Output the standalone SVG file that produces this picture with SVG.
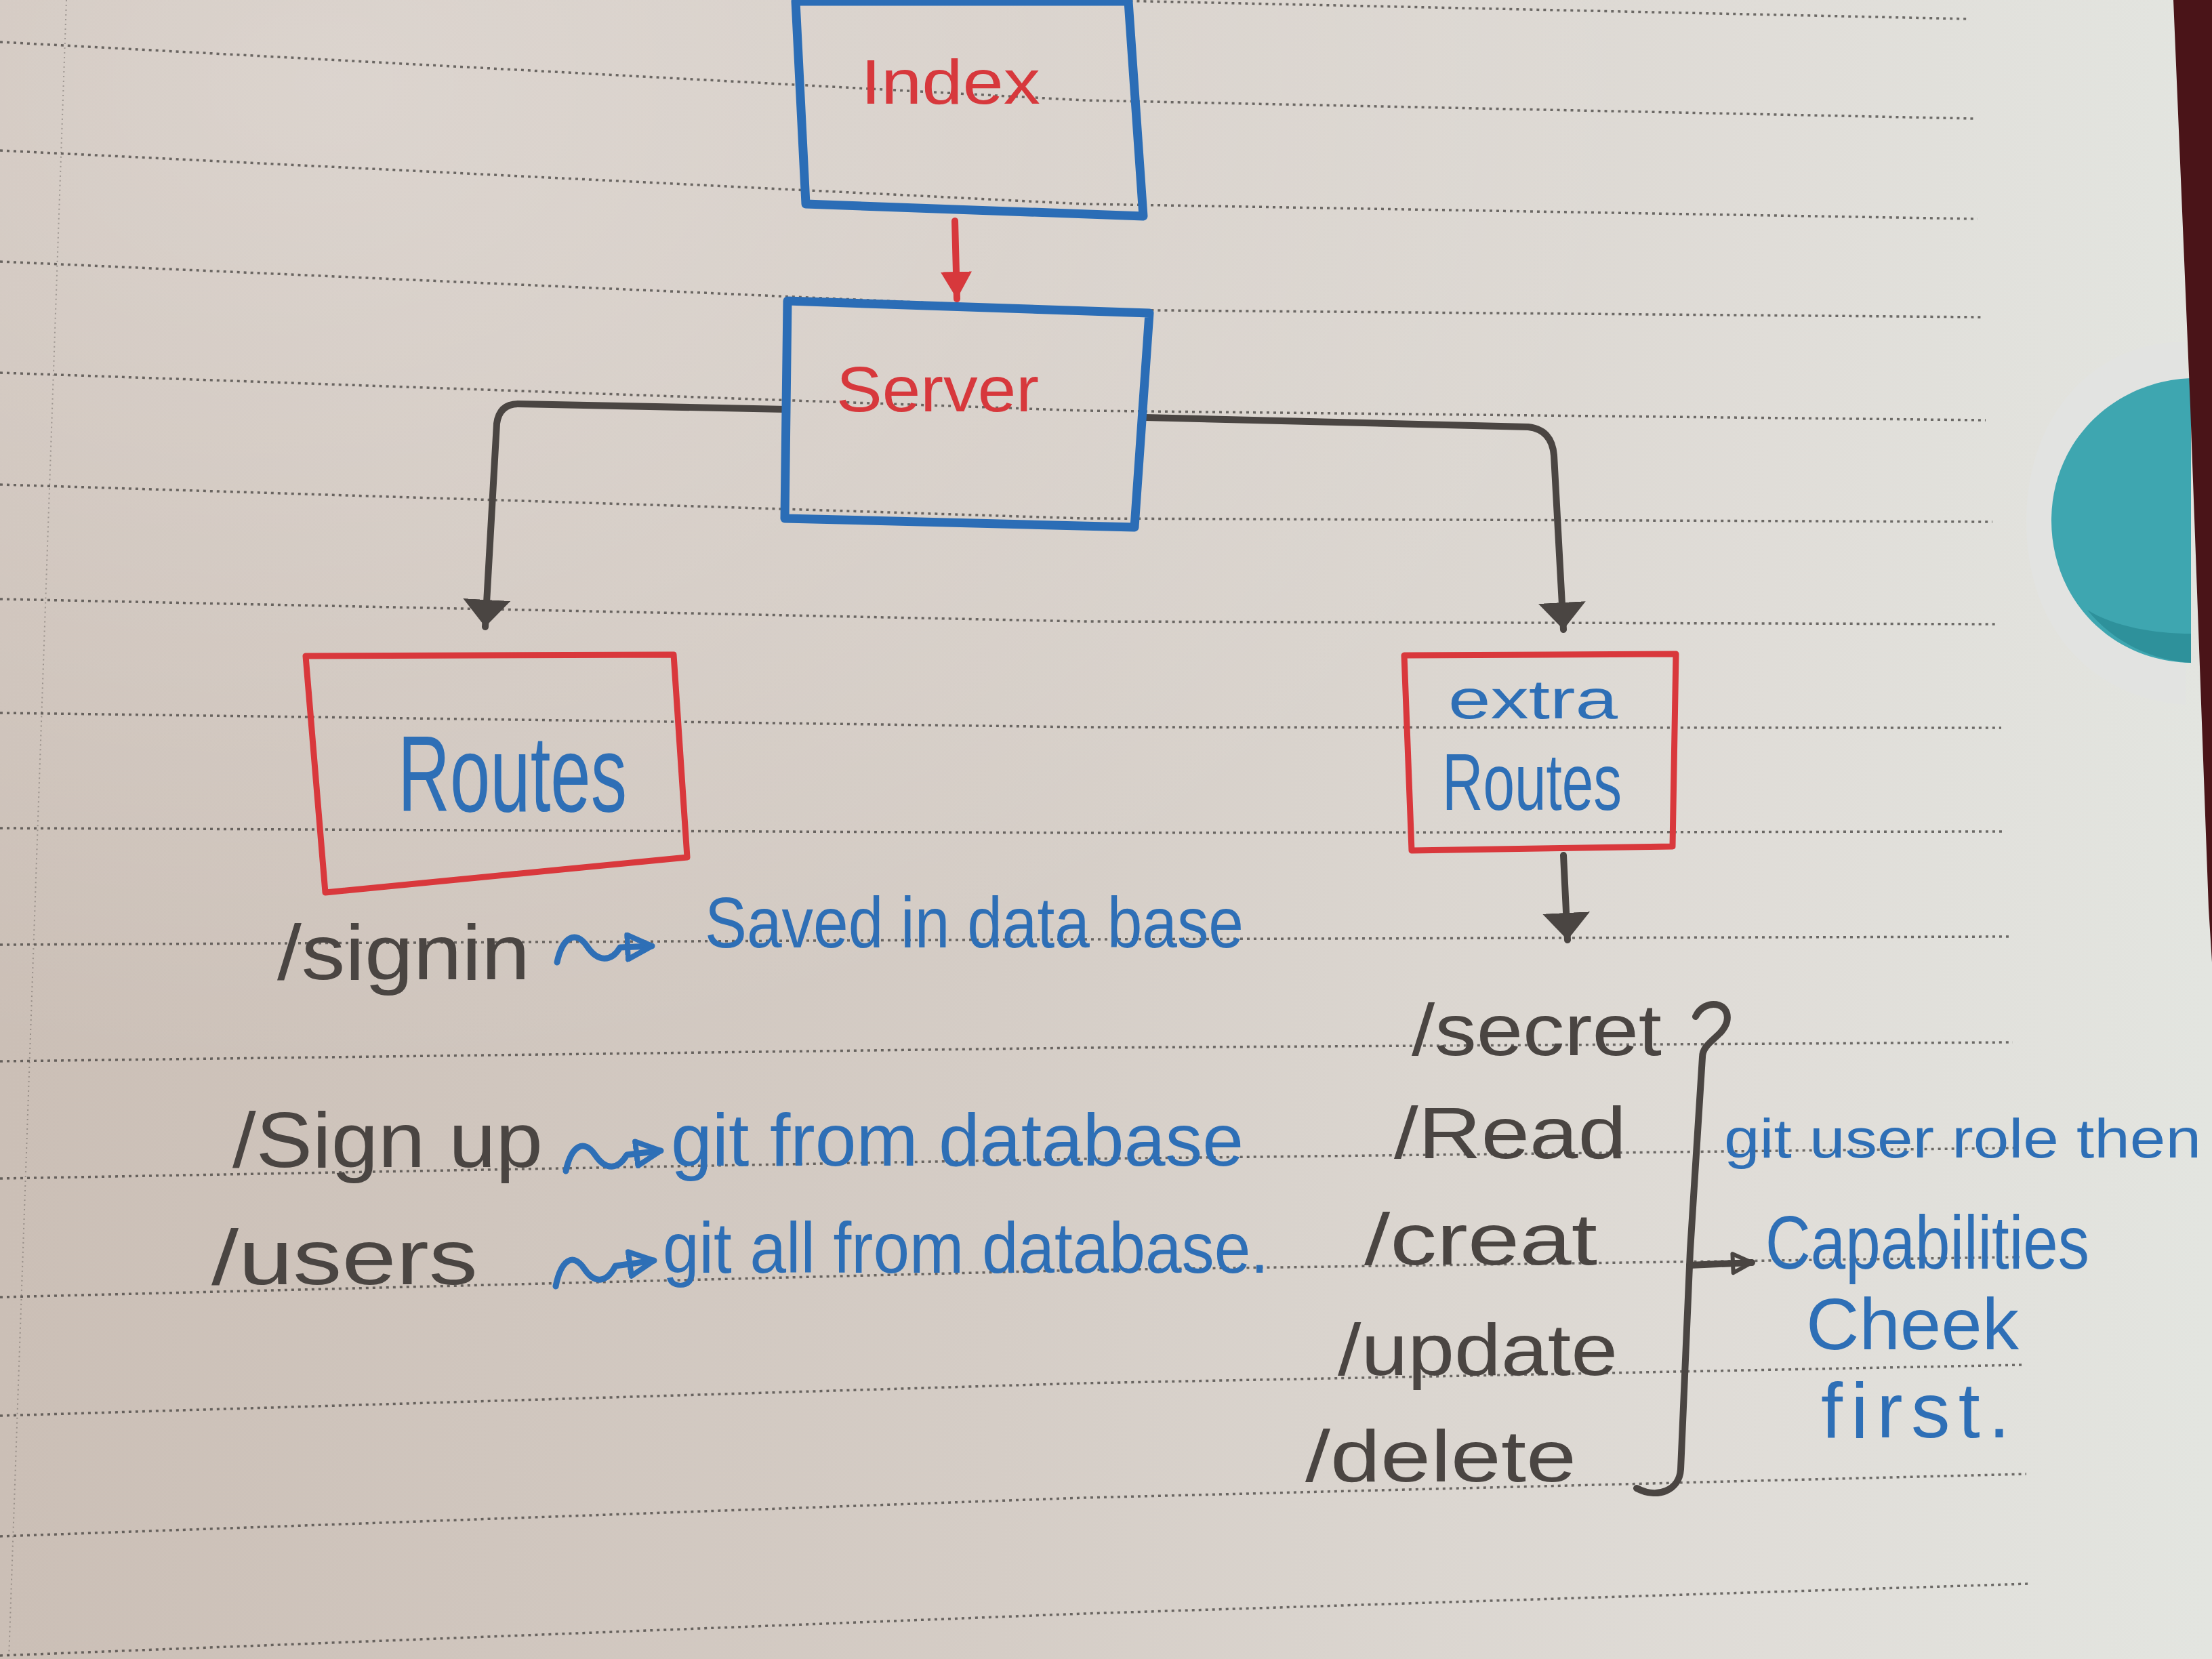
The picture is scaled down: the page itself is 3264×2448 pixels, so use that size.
<svg xmlns="http://www.w3.org/2000/svg" width="3264" height="2448" viewBox="0 0 3264 2448">
  <defs>
    <linearGradient id="paper" x1="0" y1="0" x2="1" y2="0">
      <stop offset="0" stop-color="#cbbfb6"/>
      <stop offset="0.45" stop-color="#d5cdc6"/>
      <stop offset="0.8" stop-color="#e0ddd8"/>
      <stop offset="1" stop-color="#e3e5e0"/>
    </linearGradient>
    <radialGradient id="glow" cx="0.15" cy="0.05" r="0.6">
      <stop offset="0" stop-color="#ffffff" stop-opacity="0.28"/>
      <stop offset="1" stop-color="#ffffff" stop-opacity="0"/>
    </radialGradient>
    <marker id="headPencil" viewBox="0 0 40 70" refX="40" refY="35" markerWidth="40" markerHeight="70" markerUnits="userSpaceOnUse" orient="auto">
      <path d="M0,0 L40,35 L0,70 z" fill="#4a4542"/>
    </marker>
    <marker id="headRed" viewBox="0 0 40 46" refX="40" refY="23" markerWidth="40" markerHeight="46" markerUnits="userSpaceOnUse" orient="auto">
      <path d="M0,0 L40,23 L0,46 z" fill="#d7383c"/>
    </marker>
    <marker id="headOpenBlue" viewBox="0 0 44 44" refX="40" refY="22" markerWidth="44" markerHeight="44" markerUnits="userSpaceOnUse" orient="auto">
      <path d="M4,4 L40,22 L4,40 z" fill="none" stroke="#2e6fb6" stroke-width="8" stroke-linejoin="round"/>
    </marker>
    <marker id="headOpenPencil" viewBox="0 0 36 36" refX="32" refY="18" markerWidth="36" markerHeight="36" markerUnits="userSpaceOnUse" orient="auto">
      <path d="M4,4 L32,18 L4,32 z" fill="none" stroke="#4a4542" stroke-width="6" stroke-linejoin="round"/>
    </marker>
  </defs>
  <style>
    .rule { fill: none; stroke: #3b3735; stroke-width: 3.5; stroke-dasharray: 4 6; opacity: 0.7; }
    .blueBox { fill: none; stroke: #2b6db6; stroke-width: 13; stroke-linejoin: round; }
    .redBox { fill: none; stroke: #d9383c; stroke-width: 9; stroke-linejoin: round; }
    .pencilLine { fill: none; stroke: #4a4542; stroke-width: 10; stroke-linecap: round; stroke-linejoin: round; }
    .redLine { fill: none; stroke: #d7383c; stroke-width: 10; stroke-linecap: round; }
    .inkLine { fill: none; stroke: #2e6fb6; stroke-width: 9; stroke-linecap: round; stroke-linejoin: round; }
    text { font-family: "Liberation Sans", "DejaVu Sans", sans-serif; }
    .pencil { fill: #4a4542; }
    .ink { fill: #2e6fb6; }
    .red { fill: #d7383c; }
  </style>

  <!-- paper -->
  <rect x="0" y="0" width="3264" height="2448" fill="url(#paper)"/>
  <rect x="0" y="0" width="3264" height="2448" fill="url(#glow)"/>

  <!-- ruled lines -->
  <g id="rules">
    <polyline class="rule" points="0,-90 1600,0 2907,28"/>
    <polyline class="rule" points="0,62 1600,148 2912,175"/>
    <polyline class="rule" points="0,222 1600,301 2918,323"/>
    <polyline class="rule" points="0,386 1600,457 2925,468"/>
    <polyline class="rule" points="0,550 1600,606 2930,620"/>
    <polyline class="rule" points="0,715 1600,765 2940,770"/>
    <polyline class="rule" points="0,884 1600,917 2945,921"/>
    <polyline class="rule" points="0,1052 1600,1073 2953,1074"/>
    <polyline class="rule" points="0,1222 1600,1229 2960,1227"/>
    <polyline class="rule" points="0,1394 1600,1386 2965,1382"/>
    <polyline class="rule" points="0,1566 1600,1546 2970,1538"/>
    <polyline class="rule" points="0,1739 1600,1710 2975,1694"/>
    <polyline class="rule" points="0,1914 1600,1874 2980,1855"/>
    <polyline class="rule" points="0,2089 1600,2041 2985,2014"/>
    <polyline class="rule" points="0,2267 1600,2210 2990,2175"/>
    <polyline class="rule" points="0,2443 1600,2381 2993,2337"/>
    <line x1="98" y1="0" x2="13" y2="2448" stroke="#3b3735" stroke-width="2" stroke-dasharray="2 5" opacity="0.35"/>
  </g>

  <!-- page edge, tab cut-out -->
  <g id="page-edge">
    <path d="M3205,505 C3080,515 2990,620 2990,770 C2990,920 3080,1030 3225,1040 L3225,505 z" fill="#e2e3e1"/>
    <path d="M3233,558 C3120,562 3027,650 3027,768 C3027,880 3110,975 3233,978 z" fill="#3ea6b0"/>
    <path d="M3080,900 C3120,950 3180,975 3233,978 L3233,935 C3180,935 3120,925 3080,900 z" fill="#2b8c96" opacity="0.8"/>
    <polygon points="3207,0 3264,0 3264,1420 3259,1340 3232,600" fill="#4a1418"/>
  </g>

  <!-- connectors -->
  <g id="connectors">
    <line class="redLine" x1="1409" y1="326" x2="1412" y2="441" marker-end="url(#headRed)"/>
    <path class="pencilLine" d="M1160,604 L765,596 Q737,596 733,625 L716,925" marker-end="url(#headPencil)"/>
    <path class="pencilLine" d="M1690,616 L2255,630 Q2290,634 2293,672 L2307,929" marker-end="url(#headPencil)"/>
    <path class="pencilLine" d="M2307,1262 L2313,1387" marker-end="url(#headPencil)"/>
    <!-- squiggle arrows -->
    <path class="inkLine" d="M822,1420 C830,1382 850,1372 866,1396 C882,1420 902,1420 915,1398 L962,1396" marker-end="url(#headOpenBlue)"/>
    <path class="inkLine" d="M835,1728 C843,1690 862,1680 878,1704 C894,1728 912,1726 925,1704 L975,1698" marker-end="url(#headOpenBlue)"/>
    <path class="inkLine" d="M820,1898 C828,1858 846,1848 862,1872 C878,1896 896,1892 908,1868 L965,1860" marker-end="url(#headOpenBlue)"/>
    <!-- brace and its arrow -->
    <path class="pencilLine" d="M2502,1500 C2515,1472 2555,1478 2548,1508 C2542,1530 2512,1538 2512,1560 L2494,1845 L2480,2168 C2478,2200 2445,2212 2415,2196"/>
    <path class="pencilLine" d="M2493,1867 L2585,1863" marker-end="url(#headOpenPencil)"/>
  </g>

  <!-- nodes -->
  <g id="node-index">
    <polygon class="blueBox" points="1174,2 1665,2 1687,319 1189,301"/>
    <text class="red" x="1270" y="153" font-size="92" textLength="265" lengthAdjust="spacingAndGlyphs">Index</text>
  </g>
  <g id="node-server">
    <polygon class="blueBox" points="1162,444 1696,462 1674,778 1158,765"/>
    <text class="red" x="1234" y="607" font-size="95" textLength="299" lengthAdjust="spacingAndGlyphs">Server</text>
  </g>
  <g id="node-routes">
    <polygon class="redBox" points="451,968 994,966 1014,1265 480,1317"/>
    <text class="ink" x="587" y="1197" font-size="160" textLength="338" lengthAdjust="spacingAndGlyphs">Routes</text>
  </g>
  <g id="node-extra-routes">
    <polygon class="redBox" points="2072,967 2473,965 2468,1249 2083,1255"/>
    <text class="ink" x="2137" y="1060" font-size="82" textLength="250" lengthAdjust="spacingAndGlyphs">extra</text>
    <text class="ink" x="2128" y="1195" font-size="118" textLength="265" lengthAdjust="spacingAndGlyphs">Routes</text>
  </g>

  <!-- route lists and notes -->
  <g id="routes-list">
    <text class="pencil" x="409" y="1445" font-size="115" textLength="373" lengthAdjust="spacingAndGlyphs">/signin</text>
    <text class="ink" x="1040" y="1398" font-size="105" textLength="795" lengthAdjust="spacingAndGlyphs">Saved in data base</text>
    <text class="pencil" x="343" y="1722" font-size="115" textLength="458" lengthAdjust="spacingAndGlyphs">/Sign up</text>
    <text class="ink" x="990" y="1720" font-size="110" textLength="845" lengthAdjust="spacingAndGlyphs">git from database</text>
    <text class="pencil" x="312" y="1895" font-size="115" textLength="393" lengthAdjust="spacingAndGlyphs">/users</text>
    <text class="ink" x="978" y="1878" font-size="105" textLength="894" lengthAdjust="spacingAndGlyphs">git all from database.</text>
  </g>
  <g id="extra-routes-list">
    <text class="pencil" x="2083" y="1557" font-size="108" textLength="369" lengthAdjust="spacingAndGlyphs">/secret</text>
    <text class="pencil" x="2057" y="1709" font-size="108" textLength="343" lengthAdjust="spacingAndGlyphs">/Read</text>
    <text class="pencil" x="2013" y="1866" font-size="108" textLength="344" lengthAdjust="spacingAndGlyphs">/creat</text>
    <text class="pencil" x="1974" y="2029" font-size="108" textLength="413" lengthAdjust="spacingAndGlyphs">/update</text>
    <text class="pencil" x="1926" y="2186" font-size="108" textLength="400" lengthAdjust="spacingAndGlyphs">/delete</text>
  </g>
  <g id="capabilities-note">
    <text class="ink" x="2544" y="1708" font-size="82" textLength="704" lengthAdjust="spacingAndGlyphs">git user role then</text>
    <text class="ink" x="2605" y="1872" font-size="112" textLength="478" lengthAdjust="spacingAndGlyphs">Capabilities</text>
    <text class="ink" x="2665" y="1991" font-size="108" textLength="314" lengthAdjust="spacingAndGlyphs">Cheek</text>
    <text class="ink" x="2687" y="2121" font-size="115" textLength="279" lengthAdjust="spacing">first.</text>
  </g>
</svg>
